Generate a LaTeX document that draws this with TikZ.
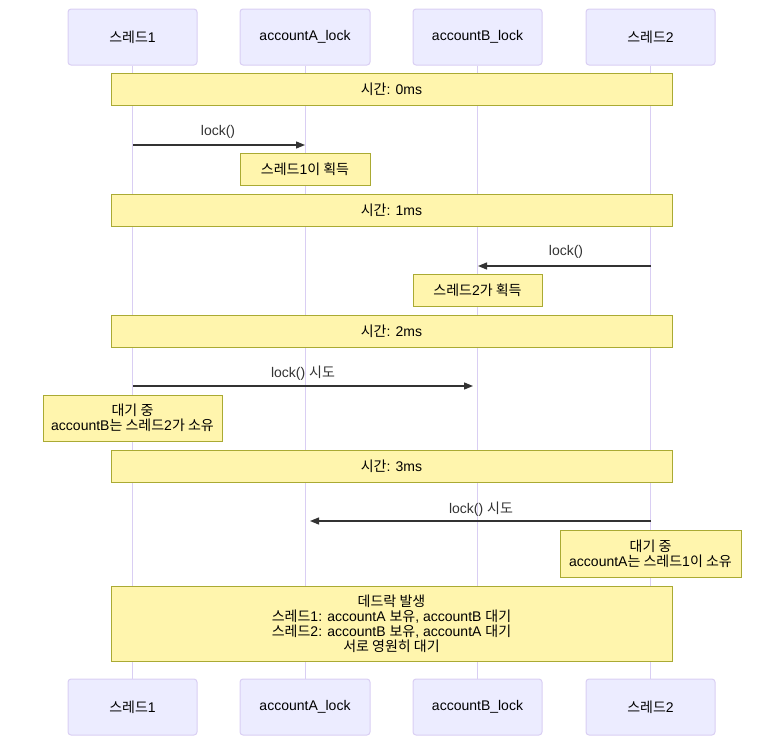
\documentclass[tikz,border=0pt]{standalone}
\usepackage{fontspec}
\setmainfont{Liberation Sans}
\newfontfamily\kr{Noto Sans CJK KR}
\usetikzlibrary{arrows.meta}
\definecolor{actorfill}{HTML}{ECECFF}
\definecolor{actorline}{HTML}{D9CEF3}
\definecolor{notefill}{HTML}{FFF5AD}
\definecolor{noteline}{HTML}{AAAA33}
\definecolor{msgcol}{HTML}{333333}
\begin{document}
\begin{tikzpicture}[x=1pt,y=-1pt,
  every node/.style={font=\fontsize{14}{15}\selectfont, text=black},
  actor/.style={draw=actorline, fill=actorfill, rounded corners=3pt, line width=1pt, inner sep=0pt, minimum height=56pt, align=center},
  note/.style={draw=noteline, fill=notefill, line width=0.8pt, inner sep=0pt, align=center},
  life/.style={draw=actorline, line width=1pt},
  msg/.style={draw=msgcol, line width=1.3pt, -{Triangle[length=9pt,width=7pt]}},
  lbl/.style={text=msgcol, inner sep=0pt}
]
\useasboundingbox (0,0) rectangle (784,745);
% actors
\node[actor, minimum width=129pt] (a1) at (132.5,37) {{\kr 스레드}1};
\node[actor, minimum width=130pt] (a2) at (305,37) {accountA\_lock};
\node[actor, minimum width=129pt] (a3) at (477.5,37) {accountB\_lock};
\node[actor, minimum width=129pt] (a4) at (650.5,37) {{\kr 스레드}2};
\node[actor, minimum width=129pt] (b1) at (132.5,707) {{\kr 스레드}1};
\node[actor, minimum width=130pt] (b2) at (305,707) {accountA\_lock};
\node[actor, minimum width=129pt] (b3) at (477.5,707) {accountB\_lock};
\node[actor, minimum width=129pt] (b4) at (650.5,707) {{\kr 스레드}2};
% lifelines
\draw[life] (a1.south) -- (b1.north);
\draw[life] (a2.south) -- (b2.north);
\draw[life] (a3.south) -- (b3.north);
\draw[life] (a4.south) -- (b4.north);
% notes
\node[note, minimum width=561pt, minimum height=32pt] (n0) at (391.5,89) {{\kr 시간}: 0ms};
\node[note, minimum width=130pt, minimum height=32pt] (n1) at (305,169) {{\kr 스레드}1{\kr 이 획득}};
\node[note, minimum width=561pt, minimum height=32pt] (n2) at (391.5,210) {{\kr 시간}: 1ms};
\node[note, minimum width=129pt, minimum height=32pt] (n3) at (477.5,290) {{\kr 스레드}2{\kr 가 획득}};
\node[note, minimum width=561pt, minimum height=32pt] (n4) at (391.5,331) {{\kr 시간}: 2ms};
\node[note, minimum width=179pt, minimum height=46pt] (n5) at (132.5,418) {{\kr 대기 중}\\accountB{\kr 는 스레드}2{\kr 가 소유}};
\node[note, minimum width=561pt, minimum height=32pt] (n6) at (391.5,466) {{\kr 시간}: 3ms};
\node[note, minimum width=181pt, minimum height=47pt] (n7) at (650.5,553.5) {{\kr 대기 중}\\accountA{\kr 는 스레드}1{\kr 이 소유}};
\node[note, minimum width=561pt, minimum height=75pt] (n8) at (391.5,623.5) {{\kr 데드락 발생}\\{\kr 스레드}1: accountA {\kr 보유}, accountB {\kr 대기}\\{\kr 스레드}2: accountB {\kr 보유}, accountA {\kr 대기}\\{\kr 서로 영원히 대기}};
% message endpoints
\coordinate (m1s) at (133,145); \coordinate (m1e) at (305,145);
\coordinate (m2s) at (651,266); \coordinate (m2e) at (478,266);
\coordinate (m3s) at (133,386); \coordinate (m3e) at (473,386);
\coordinate (m4s) at (651,521); \coordinate (m4e) at (310,521);
\draw[msg] (m1s) -- (m1e);
\draw[msg] (m2s) -- (m2e);
\draw[msg] (m3s) -- (m3e);
\draw[msg] (m4s) -- (m4e);
\node[lbl] (l1) at (218,132) {lock()};
\node[lbl] (l2) at (566,252) {lock()};
\node[lbl] (l3) at (303,373) {lock() {\kr 시도}};
\node[lbl] (l4) at (481,509) {lock() {\kr 시도}};
\end{tikzpicture}
\end{document}
